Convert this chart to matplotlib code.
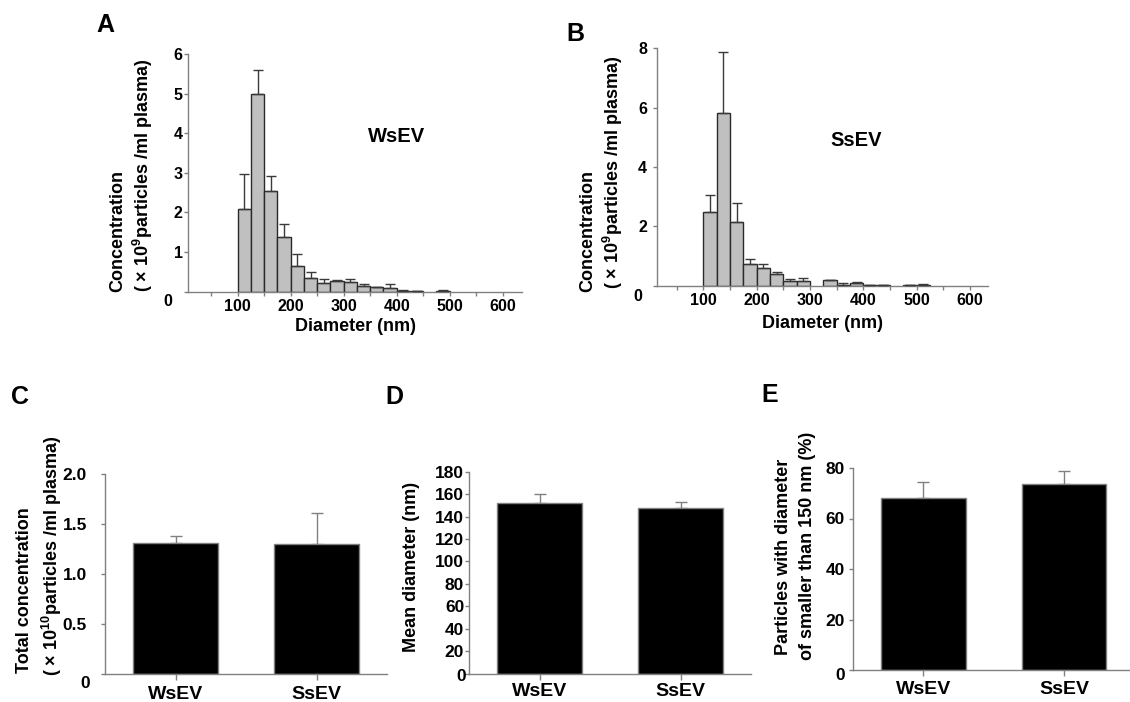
import numpy as np
import matplotlib
matplotlib.use("Agg")
import matplotlib.pyplot as plt
from matplotlib.ticker import FixedLocator, NullFormatter

plt.rcParams['font.family'] = ['Liberation Sans', 'DejaVu Sans']
plt.rcParams['font.weight'] = 'bold'
plt.rcParams['mathtext.fontset'] = 'custom'
plt.rcParams['mathtext.rm'] = 'Liberation Sans:bold'
plt.rcParams['mathtext.bf'] = 'Liberation Sans:bold'
plt.rcParams['mathtext.default'] = 'bf'

# ---------------- data ----------------
bin_left = [100, 125, 150, 175, 200, 225, 250, 275, 300, 325, 350, 375, 400, 425, 450, 475, 500]
bin_width = 25

ws_conc = [2.10, 4.98, 2.53, 1.38, 0.66, 0.34, 0.21, 0.27, 0.24, 0.135, 0.11, 0.085, 0.025, 0.025, 0.0, 0.025, 0.0]
ws_err = [0.88, 0.62, 0.40, 0.32, 0.28, 0.15, 0.12, 0.02, 0.09, 0.055, 0.02, 0.105, 0.025, 0.005, 0.0, 0.01, 0.0]

ss_conc = [2.47, 5.81, 2.13, 0.73, 0.58, 0.38, 0.17, 0.17, 0.0, 0.18, 0.034, 0.08, 0.02, 0.02, 0.0, 0.03, 0.03]
ss_err = [0.59, 2.06, 0.65, 0.16, 0.16, 0.07, 0.05, 0.10, 0.0, 0.01, 0.066, 0.05, 0.0, 0.0, 0.0, 0.005, 0.04]

groups = ['WsEV', 'SsEV']
total_conc = [1.314, 1.298]
total_conc_err = [0.07, 0.31]
mean_diam = [152.4, 147.6]
mean_diam_err = [8.0, 5.1]
pct_small = [68.0, 73.8]
pct_small_err = [6.3, 4.9]

# ---------------- layout ----------------
W, H = 1130, 702
fig = plt.figure(figsize=(W / 100, H / 100), dpi=100)

def axpos(l, r, top, bottom):
    return [l / W, 1 - bottom / H, (r - l) / W, (bottom - top) / H]

SPINE = '#808080'

def style_axes(ax, ylen=3, ypad=1, xlen=3, xpad=3, ytick_size=11.5, xtick_size=11.5):
    for s in ['top', 'right']:
        ax.spines[s].set_visible(False)
    for s in ['left', 'bottom']:
        ax.spines[s].set_color(SPINE)
        ax.spines[s].set_linewidth(1.0)
    ax.tick_params(axis='y', which='both', direction='out', length=ylen, width=1,
                   color=SPINE, pad=ypad, labelsize=ytick_size)
    ax.tick_params(axis='x', which='both', direction='out', length=xlen, width=1,
                   color=SPINE, pad=xpad, labelsize=xtick_size)

def zero_label(ax, dx, dy, size):
    ax.annotate('0', xy=(0, 0), xycoords='axes fraction', xytext=(dx, dy),
                textcoords='offset pixels', ha='right', va='center',
                fontsize=size, fontweight='bold')

def histogram(ax, conc, err, xlim, ymax, ystep, ypad):
    centers = [b + bin_width / 2 for b in bin_left]
    keep = [i for i, v in enumerate(conc) if v > 0]
    xs = [centers[i] for i in keep]
    hs = [conc[i] for i in keep]
    es = [err[i] for i in keep]
    ax.bar(xs, hs, width=bin_width, color='#c0c0c0', edgecolor='#2a2a2a',
           linewidth=1.0, zorder=2)
    ax.errorbar(xs, hs, yerr=[np.zeros(len(es)), es], fmt='none',
                ecolor='#3a3a3a', elinewidth=1.0, capsize=3.5, capthick=1.0, zorder=3)
    ax.set_xlim(*xlim)
    ax.set_ylim(0, ymax)
    ax.xaxis.set_major_locator(FixedLocator([100, 200, 300, 400, 500, 600]))
    ax.xaxis.set_minor_locator(FixedLocator([50, 150, 250, 350, 450, 550]))
    ax.xaxis.set_minor_formatter(NullFormatter())
    yt = np.arange(0, ymax + 0.001, ystep)
    ax.set_yticks(yt)
    ax.set_yticklabels([''] + ['%d' % v for v in yt[1:]])
    style_axes(ax, ylen=3, ypad=ypad, xlen=3, xpad=2.5)
    ax.set_xlabel('Diameter (nm)', fontsize=13, fontweight='bold')

# ---- Panel A ----
axA = fig.add_axes(axpos(188.3, 522.3, 54, 291.7))
histogram(axA, ws_conc, ws_err, (6.8, 637), 6, 1, 1)
axA.xaxis.set_label_coords(0.5, (291.7 - 318) / (291.7 - 54))
zero_label(axA, -16, -10, 11.5)
fig.text(397 / W, 1 - 137 / H, 'WsEV', ha='center', va='center', fontsize=14.5, fontweight='bold')

# ---- Panel B ----
axB = fig.add_axes(axpos(656.7, 988.3, 48.3, 285.7))
histogram(axB, ss_conc, ss_err, (12.6, 634.7), 8, 2, 4)
axB.xaxis.set_label_coords(0.5, (285.7 - 315) / (285.7 - 48.3))
zero_label(axB, -14, -11, 11.5)
fig.text(856 / W, 1 - 140 / H, 'SsEV', ha='center', va='center', fontsize=14.5, fontweight='bold')

# vertical (rotated) label helper
def vtext(x, y, s, size, anchor='left'):
    fig.text(x / W, 1 - y / H, s, rotation=90, rotation_mode='anchor',
             ha=anchor, va='center', fontsize=size, fontweight='bold')

vtext(118, 292, 'Concentration', 13)
vtext(143, 292, '( × 10$^{9}$particles /ml plasma)', 13)
vtext(588, 292, 'Concentration', 13)
vtext(613, 289, '( × 10$^{9}$particles /ml plasma)', 13)

# ---- bar panels ----
def barpanel(ax, vals, errs, ymax, ystep, fmt, ypad, xpad, tick_size, cat_size):
    x = np.arange(len(groups))
    ax.bar(x, vals, width=0.6, color='black', edgecolor=SPINE, linewidth=1.0, zorder=2)
    ax.errorbar(x, vals, yerr=[np.zeros(len(errs)), errs], fmt='none',
                ecolor=SPINE, elinewidth=1.0, capsize=4, capthick=1.0, zorder=1)
    ax.set_xlim(-0.5, 1.5)
    ax.set_ylim(0, ymax)
    ax.set_xticks(x)
    ax.set_xticklabels(groups)
    yt = np.arange(0, ymax + ystep * 0.01, ystep)
    ax.set_yticks(yt)
    ax.set_yticklabels([''] + [fmt % v for v in yt[1:]])
    style_axes(ax, ylen=3, ypad=ypad, xlen=4, xpad=xpad, ytick_size=tick_size,
               xtick_size=cat_size)

axC = fig.add_axes(axpos(105, 387, 474, 674))
barpanel(axC, total_conc, total_conc_err, 2.0, 0.5, '%.1f', 10, 4.5, 12.5, 14)
zero_label(axC, -15, -10, 12.5)
vtext(25, 590, 'Total concentration', 13, anchor='center')
vtext(52, 556, '( × 10$^{10}$particles /ml plasma)', 13, anchor='center')

axD = fig.add_axes(axpos(469, 751, 471.7, 673.7))
barpanel(axD, mean_diam, mean_diam_err, 180, 20, '%d', 0.5, 3, 12.5, 14)
zero_label(axD, -3, -3, 12.5)
vtext(412, 567, 'Mean diameter (nm)', 13, anchor='center')

axE = fig.add_axes(axpos(853, 1134.5, 468, 670))
barpanel(axE, pct_small, pct_small_err, 80, 20, '%d', 3, 4, 12.5, 14)
zero_label(axE, -8, -6, 12.5)
vtext(783, 557, 'Particles with diameter', 13, anchor='center')
vtext(807, 546, 'of smaller than 150 nm (%)', 13, anchor='center')

# ---- panel letters ----
for lx, ly, letter in [(96, 13, 'A'), (566, 22, 'B'), (11, 385, 'C'), (385, 385, 'D'), (761, 383, 'E')]:
    fig.text(lx / W, 1 - ly / H, letter, ha='left', va='top', fontsize=18, fontweight='bold')

fig.savefig('out.png', dpi=100)
